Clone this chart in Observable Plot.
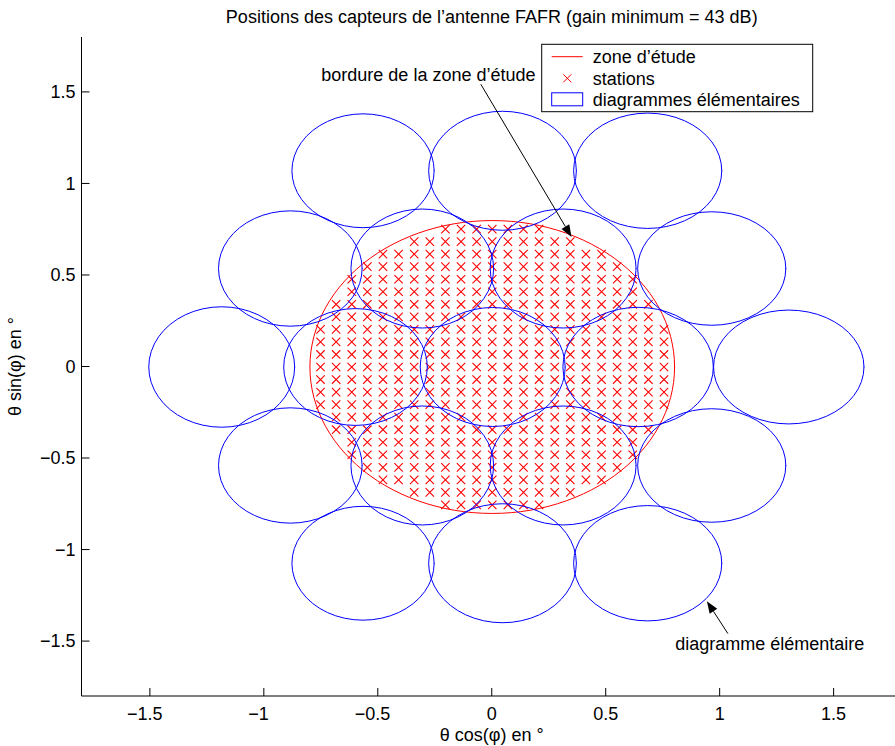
<!DOCTYPE html>
<html><head><meta charset="utf-8">
<script src="https://cdn.jsdelivr.net/npm/d3@7"></script>
<script src="https://cdn.jsdelivr.net/npm/@observablehq/plot@0.6"></script>
<style>body{margin:0;background:#fff;overflow:hidden} svg{display:block}</style>
</head><body><div id="chart"></div>
<script>
// ---- data ----
const title = "Positions des capteurs de l’antenne FAFR (gain minimum = 43 dB)";
const xLabel = "θ cos(φ) en °";
const yLabel = "θ sin(φ) en °";
const xDomain = [-1.8, 1.8];
const yDomain = [-1.8, 1.8];
const xTicks = [-1.5, -1, -0.5, 0, 0.5, 1, 1.5];
const yTicks = [-1.5, -1, -0.5, 0, 0.5, 1, 1.5];

// zone d'étude : circle radius
const zoneRadius = 0.8;

// stations : square grid, row index and half-width (number of columns each side of 0)
const stationStep = 0.0685;
const stationRows = [-11,-10,-9,-8,-7,-6,-5,-4,-3,-2,-1,0,1,2,3,4,5,6,7,8,9,10,11];
const stationHalfWidth = [3,5,7,8,9,9,10,10,11,11,11,11,11,11,11,10,10,9,9,8,7,5,3];

// diagrammes élémentaires : ellipse centres and half-axes
const beamCx = [-1.187, -0.600, 0.002, 0.640, 1.301,
                -0.886, -0.307, 0.311, 0.963,
                -0.886, -0.307, 0.311, 0.963,
                -0.567, 0.045, 0.682,
                -0.567, 0.045, 0.682];
const beamCy = [0, 0, 0, 0, 0,
                0.538, 0.538, 0.538, 0.538,
                -0.538, -0.538, -0.538, -0.538,
                1.072, 1.072, 1.072,
                -1.072, -1.072, -1.072];
const beamRx = [0.320, 0.315, 0.318, 0.330, 0.330,
                0.315, 0.313, 0.320, 0.325,
                0.315, 0.313, 0.320, 0.325,
                0.312, 0.324, 0.325,
                0.312, 0.324, 0.325];
const beamRy = [0.329, 0.319, 0.325, 0.326, 0.311,
                0.315, 0.325, 0.325, 0.310,
                0.315, 0.325, 0.325, 0.310,
                0.311, 0.325, 0.315,
                0.311, 0.325, 0.315];

const legendLabels = ["zone d’étude", "stations", "diagrammes élémentaires"];

const annotText = ["bordure de la zone d’étude", "diagramme élémentaire"];
const annotX = [-0.750, 0.803];
const annotY = [1.596, -1.517];
const arrowTailX = [-0.048, 1.036];
const arrowTailY = [1.542, -1.459];
const arrowTipX = [0.350, 0.944];
const arrowTipY = [0.708, -1.282];

// ---- build tables ----
const stations = [];
stationRows.forEach((k, i) => {
  const m = stationHalfWidth[i];
  for (let j = -m; j <= m; j++) stations.push({x: j * stationStep, y: k * stationStep});
});
const NB = 48;
const beamPts = [];
beamCx.forEach((cx, i) => {
  for (let t = 0; t <= NB; t++) {
    const a = 2 * Math.PI * t / NB;
    beamPts.push({id: i, x: cx + beamRx[i] * Math.cos(a), y: beamCy[i] + beamRy[i] * Math.sin(a)});
  }
});
const zonePts = d3.range(0, 121).map(t => {
  const a = 2 * Math.PI * t / 120;
  return {x: zoneRadius * Math.cos(a), y: zoneRadius * Math.sin(a)};
});
const annots = annotText.map((t, i) => ({text: t, x: annotX[i], y: annotY[i]}));

const W = 895, H = 746;
const FONT = "'Liberation Sans', Arial, Helvetica, sans-serif";
const FS = 18;

const plot = Plot.plot({
  width: W, height: H,
  marginLeft: 81.5, marginRight: -7, marginTop: 37, marginBottom: 50,
  x: {domain: xDomain, axis: null},
  y: {domain: yDomain, axis: null},
  style: {fontFamily: FONT, fontSize: FS + "px", background: "white", color: "black"},
  marks: [
    Plot.line(zonePts, {x: "x", y: "y", stroke: "#ff0000", strokeWidth: 1}),
    Plot.dot(stations, {x: "x", y: "y", symbol: "times", r: 3.9, stroke: "#ff0000", strokeWidth: 1.1}),
    Plot.line(beamPts, {x: "x", y: "y", z: "id", stroke: "#0000ff", strokeWidth: 1}),
    Plot.text(annots, {x: "x", y: "y", text: "text", textAnchor: "start", lineAnchor: "middle", fill: "black", fontSize: FS})
  ]
});
document.getElementById("chart").appendChild(plot);

// ---- axes, title, legend, arrows ----
const svg = d3.select(plot);
const sx = plot.scale("x"), sy = plot.scale("y");
const X = v => sx.apply(v), Y = v => sy.apply(v);
const x0 = X(xDomain[0]), yb = Y(yDomain[0]), yt = Y(yDomain[1]);
const g = svg.append("g").attr("font-family", FONT).attr("font-size", FS).attr("fill", "black");

g.append("line").attr("x1", x0).attr("x2", x0).attr("y1", yt).attr("y2", yb).attr("stroke", "black");
g.append("line").attr("x1", x0).attr("x2", W).attr("y1", yb).attr("y2", yb).attr("stroke", "black");
const fmt = v => (v < 0 ? "−" : "") + Math.abs(v);
xTicks.forEach(v => {
  g.append("line").attr("x1", X(v)).attr("x2", X(v)).attr("y1", yb).attr("y2", yb - 8).attr("stroke", "black");
  g.append("text").attr("x", X(v)).attr("dx", v < 0 ? -5.2 : 0).attr("y", yb + 23.5).attr("text-anchor", "middle").text(fmt(v));
});
yTicks.forEach(v => {
  g.append("line").attr("x1", x0).attr("x2", x0 + 8).attr("y1", Y(v)).attr("y2", Y(v)).attr("stroke", "black");
  g.append("text").attr("x", x0 - 6).attr("y", Y(v) + 6.4).attr("text-anchor", "end").text(fmt(v));
});
const xc = (X(xDomain[0]) + X(xDomain[1])) / 2;
g.append("text").attr("x", xc).attr("y", 23).attr("text-anchor", "middle").text(title);
g.append("text").attr("x", xc).attr("y", 741).attr("text-anchor", "middle").text(xLabel);
g.append("text").attr("transform", `translate(21,${Y(0)}) rotate(-90)`).attr("text-anchor", "middle").text(yLabel);

// arrows
arrowTipX.forEach((tx, i) => {
  const x1 = X(arrowTailX[i]), y1 = Y(arrowTailY[i]), x2 = X(tx), y2 = Y(arrowTipY[i]);
  const ang = Math.atan2(y2 - y1, x2 - x1), L = 12, hw = 4.5;
  const bx = x2 - L * Math.cos(ang), by = y2 - L * Math.sin(ang);
  g.append("line").attr("x1", x1).attr("y1", y1).attr("x2", bx).attr("y2", by).attr("stroke", "black");
  const px = -Math.sin(ang) * hw, py = Math.cos(ang) * hw;
  g.append("path").attr("d", `M${x2},${y2}L${bx + px},${by + py}L${bx - px},${by - py}Z`).attr("fill", "black");
});

// legend
const lg = g.append("g");
lg.append("rect").attr("x", 541.7).attr("y", 44.3).attr("width", 271).attr("height", 67.4)
  .attr("fill", "white").attr("stroke", "black");
const rowsY = [56.7, 78.3, 99.3];
lg.append("line").attr("x1", 551.7).attr("x2", 582.7).attr("y1", rowsY[0]).attr("y2", rowsY[0]).attr("stroke", "#ff0000");
lg.append("path").attr("d", `M${567.3-4},${rowsY[1]-4}l8,8M${567.3-4},${rowsY[1]+4}l8,-8`).attr("stroke", "#ff0000").attr("fill", "none");
lg.append("rect").attr("x", 551.7).attr("y", rowsY[2] - 6.5).attr("width", 31).attr("height", 13).attr("stroke", "#0000ff").attr("fill", "none");
legendLabels.forEach((t, i) => {
  lg.append("text").attr("x", 592.7).attr("y", rowsY[i] + 6.4).attr("text-anchor", "start").text(t);
});
</script>
</body></html>
